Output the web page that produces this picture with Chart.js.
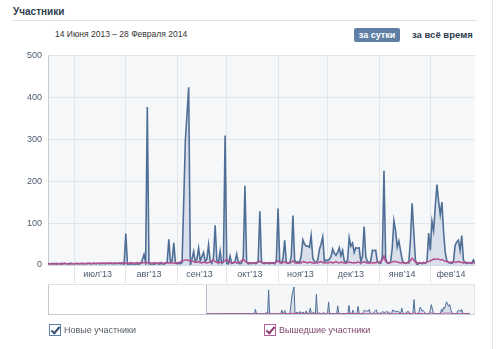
<!DOCTYPE html>
<html lang="ru">
<head>
<meta charset="UTF-8">
<title>Участники</title>
<script src="https://cdn.jsdelivr.net/npm/chart.js"></script>
<style>
  html, body { margin: 0; padding: 0; background: #fff; }
  body { width: 500px; height: 349px; position: relative; overflow: hidden;
         font-family: "Liberation Sans", Arial, sans-serif; color: #333; }
  .title { position: absolute; left: 13px; top: 6px; font-size: 10px; font-weight: bold; color: #2f3d4e; }
  .title-line { position: absolute; left: 13px; top: 20px; width: 464px; height: 1px; background: #dfe4ea; }
  .edge { position: absolute; left: 492px; top: 0; width: 1px; height: 349px; background: #e3e7eb; }
  .period { position: absolute; left: 55px; top: 29px; font-size: 8.5px; color: #333; }
  .btn-day { position: absolute; left: 354px; top: 28px; width: 46px; height: 14px; line-height: 14px;
             background: #5f7fa5; color: #fff; font-size: 9px; font-weight: bold; text-align: center; border-radius: 2px; }
  .btn-all { position: absolute; left: 412px; top: 28px; line-height: 14px; font-size: 9.5px; font-weight: bold; color: #2f3d4e; }
  #mainBox { position: absolute; left: 0; top: 44px; width: 500px; height: 242px; }
  #navBox { position: absolute; left: 48px; top: 284px; width: 427px; height: 31px; box-sizing: border-box;
            border: 1px solid #dfe4ea; border-left-color: #c5ccd5; border-bottom-color: #c5ccd5; }
  .legend { position: absolute; top: 324px; font-size: 9px; line-height: 12px; }
  .legend .box { position: absolute; left: 0; top: 0; width: 10px; height: 10px; border: 1px solid; background: #fff; }
  .legend .box::after { content: ""; position: absolute; left: 3px; top: 0px; width: 3px; height: 7px;
                        border: solid; border-width: 0 2px 2px 0; transform: rotate(40deg); }
  .legend span.txt { position: absolute; left: 15px; top: 0; white-space: nowrap; }
  .l-new { left: 49px; }
  .l-new .box { border-color: #5d7ea6; }
  .l-new .box::after { border-color: #34506f; }
  .l-new .txt { color: #555c64; }
  .l-left { left: 264px; }
  .l-left .box { border-color: #b3609a; }
  .l-left .box::after { border-color: #8c3a6f; }
  .l-left .txt { color: #7a4669; }
</style>
</head>
<body>
  <div class="title">Участники</div>
  <div class="title-line"></div>
  <div class="edge"></div>
  <div class="period">14 Июня 2013 – 28 Февраля 2014</div>
  <div class="btn-day">за сутки</div>
  <div class="btn-all">за всё время</div>

  <div id="mainBox"><canvas id="membersChart"></canvas></div>
  <div id="navBox"><canvas id="navChart"></canvas></div>

  <div class="legend l-new"><span class="box"></span><span class="txt">Новые участники</span></div>
  <div class="legend l-left"><span class="box"></span><span class="txt">Вышедшие участники</span></div>

<script>
  // по дням, начиная с 14 июня 2013 (день 0) до 28 февраля 2014 (день 259)
  const newMembers = [
    // июнь (14–30)
    3,4,3,3,4,3,4,3,3,4,3,4,3,3,4,4,3,
    // июль
    3,4,3,3,4,3,3,4,3,4,3,3,4,3,4,3,3,4,3,3,4,3,4,3,3,4,3,4,3,3,2,
    // август
    75,2,2,3,2,3,2,3,2,4,12,25,6,377,3,2,3,2,3,4,2,3,3,2,4,6,61,6,10,53,5,
    // сентябрь
    3,4,3,6,150,297,360,424,0,14,32,8,14,40,10,20,30,8,14,48,9,4,18,95,12,5,33,4,7,309,
    // октябрь
    4,3,21,4,5,8,26,5,3,5,18,189,8,3,4,3,5,3,4,10,128,8,4,3,5,4,3,5,4,3,12,
    // ноябрь
    135,8,4,15,59,6,4,5,20,118,12,6,8,5,22,60,50,45,45,42,70,16,8,6,12,37,50,67,8,12,
    // декабрь
    10,14,20,38,28,23,30,41,22,35,10,6,12,65,45,52,30,41,40,41,8,20,92,20,8,6,10,35,34,35,8,
    // январь
    5,4,20,225,16,5,4,8,40,106,82,43,57,35,12,5,4,6,5,60,147,80,12,0,4,5,3,6,4,8,76,
    // февраль
    35,104,82,140,192,152,120,150,80,30,10,6,5,4,8,47,55,59,35,70,12,5,4,6,5,4,12,5
  ];
  const leftMembers = [
    2,3,3,2,3,3,2,3,3,2,3,4,3,3,2,3,3,
    3,3,4,3,3,4,3,3,4,4,3,4,4,3,4,4,5,4,4,5,4,5,5,4,5,5,4,5,5,6,5,
    4,5,4,6,5,4,5,6,5,4,6,5,7,5,6,5,4,6,5,4,5,6,5,4,5,6,5,6,5,4,6,
    5,6,7,9,11,12,12,10,11,9,8,7,6,8,6,5,7,6,5,6,7,10,12,8,6,5,7,6,8,10,
    14,8,6,5,6,7,5,6,8,10,14,9,6,5,6,5,4,6,5,7,9,6,5,6,4,5,6,5,6,5,7,
    10,6,5,6,8,5,6,5,7,10,6,5,4,6,5,8,7,6,5,7,6,5,4,6,5,7,8,6,5,6,
    5,6,7,5,6,8,6,5,7,6,5,4,6,7,6,5,6,5,7,6,5,6,8,6,5,4,6,5,6,5,7,
    6,8,12,21,9,6,5,6,7,9,8,7,6,5,6,5,4,6,7,10,16,12,7,5,6,5,4,6,5,7,8,
    10,12,14,13,15,14,12,13,11,9,8,7,6,7,8,6,7,8,7,6,5,7,6,5,6,5,6,5
  ];

  // первый день каждого месяца (номер дня) и подписи месяцев
  const monthStarts = [17, 48, 79, 109, 140, 170, 201, 232];
  const monthLabels = ['июл’13', 'авг’13', 'сен’13', 'окт’13', 'ноя’13', 'дек’13', 'янв’14', 'фев’14'];
  const yTicks = [0, 100, 200, 300, 400, 500];
  const lastDay = 259;

  // подпись месяца — чуть левее середины между линиями сетки
  const monthMids = monthStarts.map((d, i) =>
    (d + (i < monthStarts.length - 1 ? monthStarts[i + 1] : lastDay + 1)) / 2 - 1.5);

  const toPoints = arr => arr.map((v, i) => ({ x: i, y: v }));

  Chart.defaults.font.family = '"Liberation Sans", Arial, sans-serif';
  Chart.defaults.font.size = 9;

  // фон области графика
  const plotBg = {
    id: 'plotBg',
    beforeDraw(chart, args, opts) {
      const { ctx, chartArea: a } = chart;
      ctx.save();
      ctx.fillStyle = opts.color;
      ctx.fillRect(a.left, a.top, a.right - a.left, a.bottom - a.top);
      if (opts.from !== undefined) {
        const x0 = chart.scales.x.getPixelForValue(opts.from);
        ctx.fillStyle = opts.selColor;
        ctx.fillRect(x0, a.top, a.right - x0, a.bottom - a.top);
      }
      ctx.restore();
    }
  };

  const blueLine = '#4f6f96';
  const blueFill = 'rgba(176,193,216,0.42)';
  const pinkLine = '#b34f8f';

  // основной график
  new Chart(document.getElementById('membersChart'), {
    type: 'line',
    data: {
      datasets: [
        { label: 'Вышедшие участники', data: toPoints(leftMembers), borderColor: pinkLine,
          borderWidth: 1.5, pointRadius: 0, fill: false, order: 0 },
        { label: 'Новые участники', data: toPoints(newMembers), borderColor: blueLine,
          backgroundColor: blueFill, borderWidth: 1.6, pointRadius: 0, fill: 'origin', order: 1 }
      ]
    },
    options: {
      responsive: true,
      maintainAspectRatio: false,
      animation: false,
      events: [],
      layout: { padding: { left: 0, right: 25, top: 8, bottom: 3 } },
      plugins: { legend: { display: false }, tooltip: { enabled: false }, plotBg: { color: '#f6f7f9' } },
      scales: {
        x: {
          type: 'linear', min: 1, max: lastDay,
          afterBuildTicks: s => {
            s.ticks = monthStarts.concat(monthMids).sort((a, b) => a - b).map(v => ({ value: v }));
          },
          afterFit: s => { s.height = 18; },
          grid: {
            color: c => (c.tick && monthStarts.includes(c.tick.value)) ? '#e1e5ea' : 'rgba(0,0,0,0)',
            drawTicks: true, tickLength: 18
          },
          border: { display: true, color: '#d3d9e0' },
          ticks: {
            autoSkip: false, maxRotation: 0, minRotation: 0, padding: -14, color: '#4b5a6e',
            callback: v => { const i = monthMids.indexOf(v); return i < 0 ? '' : monthLabels[i]; }
          }
        },
        y: {
          min: 0, max: 500,
          afterBuildTicks: s => { s.ticks = yTicks.map(v => ({ value: v })); },
          afterFit: s => { s.width = 48; },
          grid: { color: '#e1e5ea', drawTicks: false },
          border: { display: true, color: '#c5ccd5' },
          ticks: { padding: 6, color: '#4b5a6e' }
        }
      }
    },
    plugins: [plotBg]
  });

  // обзорная полоса снизу
  new Chart(document.getElementById('navChart'), {
    type: 'line',
    data: {
      datasets: [
        { data: toPoints(leftMembers), borderColor: pinkLine, borderWidth: 1, pointRadius: 0, fill: false, order: 0 },
        { data: toPoints(newMembers), borderColor: blueLine, backgroundColor: blueFill,
          borderWidth: 1, pointRadius: 0, fill: 'origin', order: 1 }
      ]
    },
    options: {
      responsive: true,
      maintainAspectRatio: false,
      animation: false,
      events: [],
      layout: { padding: 0 },
      plugins: { legend: { display: false }, tooltip: { enabled: false },
                 plotBg: { color: '#ffffff', from: 0, selColor: '#f4f6f8' } },
      scales: {
        x: {
          type: 'linear', min: -155, max: 263,
          afterBuildTicks: s => { s.ticks = [{ value: 0 }]; },
          afterFit: s => { s.height = 0; },
          grid: { color: '#b3bcc7', drawTicks: false },
          border: { display: false },
          ticks: { display: false }
        },
        y: { display: false, min: 0, max: 455 }
      }
    },
    plugins: [plotBg]
  });
</script>
</body>
</html>
